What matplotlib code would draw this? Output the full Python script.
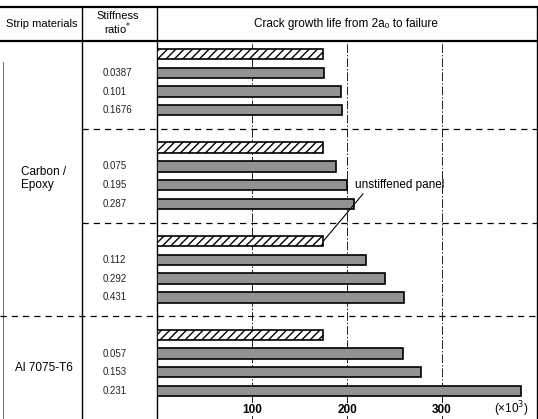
import numpy as np
import matplotlib.pyplot as plt

plt.rcParams['font.family'] = ['Liberation Sans Narrow', 'Liberation Sans', 'DejaVu Sans']

# data (crack growth life, x10^3 cycles)
materials = ["Carbon /\nEpoxy", "Al 7075-T6"]
material_groups = [[0, 1, 2], [3]]
stiffness = [["0.0387", "0.101", "0.1676"],
             ["0.075", "0.195", "0.287"],
             ["0.112", "0.292", "0.431"],
             ["0.057", "0.153", "0.231"]]
unstiffened = [175, 175, 175, 175]
stiffened = [[176, 194, 195],
             [188, 200, 207],
             [220, 240, 260],
             [259, 278, 383]]
ticks = [100, 200, 300]

W, H = 538, 419
fig = plt.figure(figsize=(W / 100, H / 100), dpi=100)

# table frame in pixel units
tab = fig.add_axes([0, 0, 1, 1])
tab.set_xlim(0, W)
tab.set_ylim(H, 0)
tab.axis('off')
tab.plot([0, 537], [7, 7], color='black', lw=1.6)
tab.plot([0, 537], [41, 41], color='black', lw=1.6)
for xv in [82, 157, 537]:
    tab.plot([xv, xv], [7, H], color='black', lw=1.0)
tab.plot([3, 3], [62, H], color='#555555', lw=0.6)

tab.text(42, 24, "Strip materials", ha='center', va='center', fontsize=8)
tab.text(118, 24, "Stiffness\nratio$^{*}$", ha='center', va='center', fontsize=8, linespacing=0.95)
tab.text(346, 24, "Crack growth life from 2a\u2080 to failure", ha='center', va='center', fontsize=8.5)

# bar area
ax = fig.add_axes([157 / W, 0, 380 / W, 378 / H])
ax.patch.set_alpha(0)
ax.set_xlim(0, 400)
ax.set_ylim(20.5, 0.3)
ax.axis('off')

for t in ticks:
    ax.axvline(t, color='#222222', lw=0.7, ls=(0, (9, 2, 1.5, 2)), zorder=1)

bh = 0.56
for g in range(4):
    base = 5 * g + 1
    ax.barh(base, unstiffened[g], height=bh, color='white', edgecolor='black',
            hatch='////', lw=1.2, zorder=3)
    ys = [base + i + 1 for i in range(3)]
    ax.barh(ys, stiffened[g], height=bh, color='#929292', edgecolor='black',
            lw=1.2, zorder=3)
    for y, lab in zip(ys, stiffness[g]):
        ax.text(-0.142, y, lab, transform=ax.get_yaxis_transform(),
                ha='left', va='center', fontsize=7, color='#222222')

# group separators
for sep, x0 in [(5, 82), (10, 82), (15, 0)]:
    ax.axhline(sep, xmin=(x0 - 157) / 380, xmax=1, color='black', lw=0.9,
               ls=(0, (5, 4)), clip_on=False, zorder=2)

# material labels
for mat, grp in zip(materials, material_groups):
    top = 0.3 if grp[0] == 0 else 5 * grp[0]
    bot = 5 * (grp[-1] + 1) if grp[-1] < 3 else 20.5
    ax.text(-0.298, (top + bot) / 2, mat, transform=ax.get_yaxis_transform(),
            ha='center', va='center', fontsize=8.5, multialignment='left')

# x tick labels inside the frame
for t in ticks:
    ax.text(t, 20.0, str(t), ha='center', va='center', fontsize=8.5,
            fontweight='bold', zorder=4,
            bbox=dict(facecolor='white', edgecolor='none', pad=0.5))
ax.text(373, 20.0, "(\u00d710$^{3}$)", ha='center', va='center', fontsize=8.5, zorder=4)

ax.annotate("unstiffened panel", xy=(unstiffened[2], 11), xytext=(208, 8.0),
            textcoords='data', ha='left', va='center', fontsize=8.5,
            arrowprops=dict(arrowstyle='-', lw=0.8, color='black',
                            relpos=(0.12, 0), shrinkA=0, shrinkB=0))

fig.savefig("out.png", dpi=100)
